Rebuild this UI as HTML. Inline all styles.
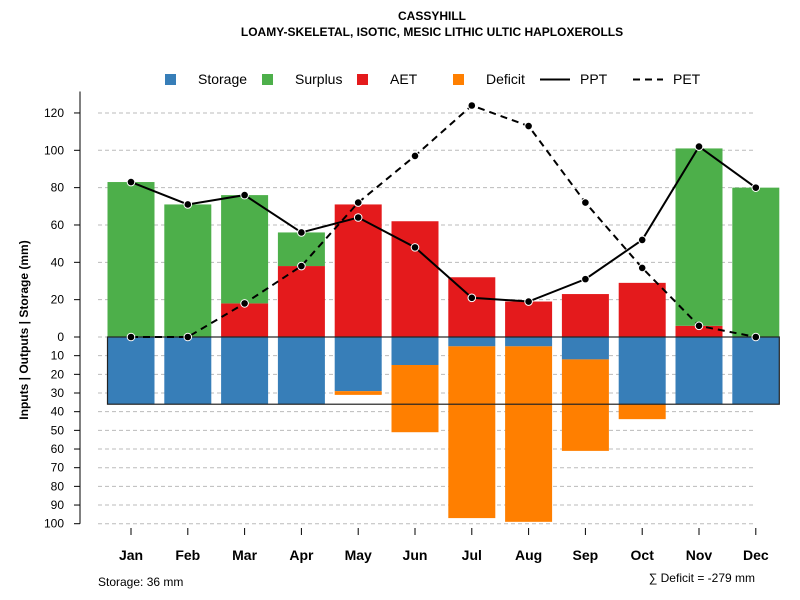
<!DOCTYPE html>
<html><head><meta charset="utf-8"><style>body{margin:0;background:#fff}svg{display:block;font-family:"Liberation Sans",sans-serif}</style></head>
<body>
<svg id="c" width="800" height="600">
<text x="432" y="20" text-anchor="middle" font-weight="bold" font-size="12">CASSYHILL</text>
<text x="432" y="36" text-anchor="middle" font-weight="bold" font-size="12">LOAMY-SKELETAL, ISOTIC, MESIC LITHIC ULTIC HAPLOXEROLLS</text>
<text transform="translate(28,330) rotate(-90)" text-anchor="middle" font-weight="bold" font-size="12">Inputs | Outputs | Storage    (mm)</text>
<text x="98" y="586" font-size="12">Storage: 36 mm</text>
<text x="755" y="582" text-anchor="end" font-size="12">∑ Deficit = -279 mm</text>
<g id="grid"></g><g id="bars"></g><g id="lines"></g><g id="axes"></g><g id="legend"></g>
</svg>
<script>
const months=["Jan","Feb","Mar","Apr","May","Jun","Jul","Aug","Sep","Oct","Nov","Dec"];
const storage=[36,36,36,36,29,15,5,5,12,36,36,36];
const deficit=[0,0,0,0,2,36,92,94,49,8,0,0];
const aet=[0,0,18,38,71,62,32,19,23,29,6,0];
const surplus=[83,71,58,18,0,0,0,0,0,0,95,80];
const ppt=[83,71,76,56,64,48,21,19,31,52,102,80];
const pet=[0,0,18,38,72,97,124,113,72,37,6,0];
const posTicks=[0,20,40,60,80,100,120];
const negTicks=[10,20,30,40,50,60,70,80,90,100];
const maxStorage=36;
const NS="http://www.w3.org/2000/svg";
const Y0=337,K=1.867;
const y=v=>Y0-v*K;
const x=i=>131+i*56.8;
const BW=47;
function mk(p,t,a){const e=document.createElementNS(NS,t);for(const k in a)e.setAttribute(k,a[k]);document.getElementById(p).appendChild(e);return e;}
posTicks.concat(negTicks.map(v=>-v)).forEach(v=>{
 const g=mk("grid","line",{x1:98,x2:756,y1:y(v),y2:y(v),stroke:"#bbb","stroke-dasharray":"4,3"});
 
 
 const t=mk("axes","line",{x1:74,x2:80,y1:y(v),y2:y(v),stroke:"#000"});
 
 
 const l=mk("axes","text",{x:64,y:y(v)+4,"text-anchor":"end","font-size":12});
 l.textContent=Math.abs(v);
 
 
});
const ax=mk("axes","line",{x1:80,x2:80,y1:y(124)-14,y2:y(-100),stroke:"#000"});


months.forEach((m,i)=>{
 const cx=x(i),l=cx-BW/2;
 let r=mk("bars","rect",{x:l,y:y(0),width:BW,height:storage[i]*K,fill:"#377eb8"});
 
 
 if(deficit[i]>0){r=mk("bars","rect",{x:l,y:y(-storage[i]),width:BW,height:deficit[i]*K,fill:"#ff7f00"});
 
 }
 if(aet[i]>0){r=mk("bars","rect",{x:l,y:y(aet[i]),width:BW,height:aet[i]*K,fill:"#e41a1c"});
 
 }
 if(surplus[i]>0){r=mk("bars","rect",{x:l,y:y(aet[i]+surplus[i]),width:BW,height:surplus[i]*K,fill:"#4daf4a"});
 
 }
 const t=mk("axes","line",{x1:cx,x2:cx,y1:528,y2:535,stroke:"#000"});
 
 
 const lb=mk("axes","text",{x:cx,y:560,"text-anchor":"middle","font-size":14,"font-weight":"bold"});
 lb.textContent=m;
 
 
});
const box=mk("bars","rect",{x:x(0)-BW/2,y:y(0),width:x(11)-x(0)+BW,height:maxStorage*K,fill:"none",stroke:"#222","stroke-width":1.2});


function series(d,dash,name){
 const p=mk("lines","polyline",{points:d.map((v,i)=>x(i)+","+y(v)).join(" "),fill:"none",stroke:"#000","stroke-width":2,"stroke-dasharray":dash});
 
 
 d.forEach((v,i)=>{const c=mk("lines","circle",{cx:x(i),cy:y(v),r:3.8,fill:"#000",stroke:"#fff","stroke-width":1});
 
 });
}
series(pet,"7,5","pet");
series(ppt,"none","ppt");
const leg=[["Storage","#377eb8",165,"sq"],["Surplus","#4daf4a",262,"sq"],["AET","#e41a1c",357,"sq"],["Deficit","#ff7f00",453,"sq"],["PPT","",540,"solid"],["PET","",633,"dash"]];
leg.forEach(([n,c,lx,k])=>{
 let s;
 if(k==="sq")s=mk("legend","rect",{x:lx,y:74,width:11,height:11,fill:c});
 else s=mk("legend","line",{x1:lx,x2:lx+30,y1:79.5,y2:79.5,stroke:"#000","stroke-width":2,"stroke-dasharray":k==="dash"?"7,5":"none"});
 
 
 const t=mk("legend","text",{x:k==="sq"?lx+33:lx+40,y:84,"font-size":14});
 t.textContent=n;
 
 
});
</script>
</body></html>
